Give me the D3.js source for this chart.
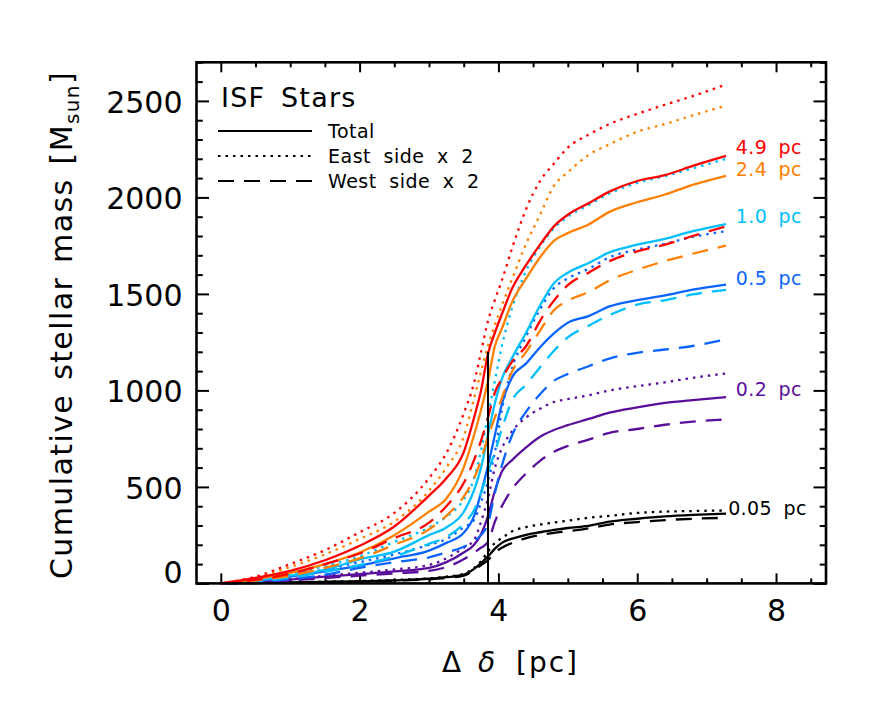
<!DOCTYPE html>
<html>
<head>
<meta charset="utf-8">
<script src="https://cdn.jsdelivr.net/npm/d3@7"></script>
<style>
  html, body { margin: 0; padding: 0; background: #fff; }
  svg { display: block; }
  text { font-family: "DejaVu Sans", sans-serif; }
</style>
</head>
<body>
<script>
// ---------------- DATA ----------------
const distance = [0, 0.5, 1, 1.5, 2, 2.5, 3, 3.25, 3.5, 3.65, 3.75, 3.85, 3.95, 4.05, 4.2, 4.4, 4.6, 4.8, 5.0, 5.3, 5.6, 6.0, 6.4, 6.8, 7.28];

const apertures = ["4.9 pc", "2.4 pc", "1.0 pc", "0.5 pc", "0.2 pc", "0.05 pc"];

// 4.9 pc
const total_4_9 = [0, 28, 65, 120, 195, 295, 455, 545, 680, 860, 1000, 1190, 1300, 1395, 1530, 1650, 1755, 1850, 1910, 1970, 2030, 2085, 2115, 2163, 2215];
const east_4_9  = [0, 35, 100, 172, 265, 365, 545, 675, 880, 1040, 1200, 1360, 1470, 1570, 1740, 1940, 2085, 2175, 2258, 2325, 2380, 2433, 2480, 2525, 2585];
const west_4_9  = [0, 18, 50, 100, 155, 235, 315, 400, 520, 640, 740, 860, 990, 1060, 1150, 1230, 1360, 1465, 1545, 1610, 1670, 1720, 1755, 1800, 1850];
// 2.4 pc
const total_2_4 = [0, 22, 55, 100, 160, 250, 372, 440, 600, 770, 900, 1050, 1230, 1320, 1460, 1580, 1690, 1775, 1815, 1860, 1925, 1975, 2015, 2065, 2112];
const east_2_4  = [0, 30, 85, 150, 230, 320, 480, 600, 760, 960, 1100, 1230, 1340, 1440, 1580, 1760, 1910, 2060, 2130, 2220, 2275, 2340, 2380, 2425, 2475];
const west_2_4  = [0, 15, 40, 80, 130, 200, 280, 350, 450, 545, 640, 760, 860, 960, 1100, 1200, 1310, 1415, 1465, 1510, 1570, 1625, 1670, 1708, 1750];
// 1.0 pc
const total_1_0 = [0, 15, 40, 70, 125, 165, 250, 290, 370, 483, 600, 770, 935, 1060, 1170, 1300, 1440, 1555, 1610, 1660, 1715, 1755, 1785, 1825, 1862];
const east_1_0  = [0, 20, 50, 90, 140, 215, 290, 345, 435, 545, 690, 870, 1050, 1230, 1430, 1620, 1745, 1840, 1900, 1960, 2020, 2075, 2110, 2150, 2200];
const west_1_0  = [0, 10, 30, 60, 95, 140, 205, 240, 310, 380, 470, 580, 680, 800, 950, 1030, 1120, 1205, 1275, 1335, 1390, 1445, 1467, 1497, 1521];
// 0.5 pc
const total_0_5 = [0, 12, 35, 62, 92, 130, 170, 210, 262, 350, 470, 610, 770, 930, 1070, 1140, 1224, 1295, 1350, 1385, 1435, 1468, 1492, 1522, 1548];
const east_0_5  = [0, 14, 40, 72, 110, 150, 200, 230, 290, 330, 420, 530, 680, 900, 1120, 1280, 1420, 1530, 1580, 1630, 1690, 1730, 1760, 1795, 1825];
const west_0_5  = [0, 8, 22, 45, 80, 110, 135, 160, 190, 220, 250, 310, 470, 610, 770, 890, 980, 1050, 1085, 1125, 1165, 1195, 1212, 1230, 1265];
// 0.2 pc
const total_0_2 = [0, 5, 20, 35, 48, 62, 80, 110, 160, 200, 255, 350, 480, 580, 640, 705, 760, 795, 820, 852, 885, 912, 935, 950, 965];
const east_0_2  = [0, 6, 22, 40, 55, 72, 95, 130, 185, 225, 320, 440, 600, 700, 790, 860, 905, 940, 955, 975, 1000, 1022, 1042, 1065, 1088];
const west_0_2  = [0, 4, 15, 28, 40, 52, 65, 85, 125, 160, 185, 215, 320, 400, 490, 570, 635, 682, 712, 745, 780, 800, 822, 838, 850];
// 0.05 pc
const total_0_05 = [0, 2, 5, 8, 11, 16, 24, 32, 45, 75, 105, 140, 180, 210, 232, 252, 265, 277, 287, 298, 320, 335, 347, 355, 362];
const east_0_05  = [0, 2, 5, 9, 12, 18, 26, 35, 50, 80, 115, 165, 210, 235, 270, 292, 305, 315, 325, 340, 350, 365, 372, 375, 378];
const west_0_05  = [0, 2, 4, 7, 10, 14, 21, 28, 40, 70, 95, 120, 160, 185, 210, 235, 250, 262, 270, 285, 305, 318, 328, 335, 340];

const xTicks = [0, 2, 4, 6, 8];
const yTicks = [0, 500, 1000, 1500, 2000, 2500];
const markerDistance = 3.85;
const markerMass = 1200;
const legendItems = ["Total", "East side x 2", "West side x 2"];

// ---------------- LAYOUT / STYLE ----------------
const W = 886, H = 709;
const colors = ["#ff0000", "#ff8000", "#00bfff", "#0a64ff", "#5a0f9c", "#000000"];
const dashes = [null, "2.5,5", "16,10"];

const groups = [
  [total_4_9, east_4_9, west_4_9],
  [total_2_4, east_2_4, west_2_4],
  [total_1_0, east_1_0, west_1_0],
  [total_0_5, east_0_5, west_0_5],
  [total_0_2, east_0_2, west_0_2],
  [total_0_05, east_0_05, west_0_05]
];

const svg = d3.select("body").append("svg").attr("width", W).attr("height", H);

const x = d3.scaleLinear().domain([-0.35, 8.72]).range([196.5, 826]);
const y = d3.scaleLinear().domain([0, 2700]).range([583.4, 62.3]);
const [L, R] = x.range();
const [B, T] = y.range();

const tickFont = 30;

// minor ticks
const xMinor = d3.range(0, 8.75, 0.5).filter(v => v % 2 !== 0);
const yMinor = d3.range(0, 2701, 100).filter(v => v % 500 !== 0);

function styleAxis(g) {
  g.select(".domain").remove();
  g.selectAll(".tick line").attr("stroke", "#000").attr("stroke-width", 2);
}

svg.append("g").attr("transform", `translate(0,${B})`)
  .call(d3.axisBottom(x).tickValues(xMinor).tickSize(-5).tickFormat("")).call(styleAxis);
svg.append("g").attr("transform", `translate(0,${T})`)
  .call(d3.axisTop(x).tickValues(xMinor).tickSize(-5).tickFormat("")).call(styleAxis);
svg.append("g").attr("transform", `translate(0,${T})`)
  .call(d3.axisTop(x).tickValues(xTicks).tickSize(-10).tickFormat("")).call(styleAxis);
svg.append("g").attr("transform", `translate(${L},0)`)
  .call(d3.axisLeft(y).tickValues(yMinor).tickSize(-6.3).tickFormat("")).call(styleAxis);
svg.append("g").attr("transform", `translate(${R},0)`)
  .call(d3.axisRight(y).tickValues(yMinor).tickSize(-6.3).tickFormat("")).call(styleAxis);
svg.append("g").attr("transform", `translate(${R},0)`)
  .call(d3.axisRight(y).tickValues(yTicks).tickSize(-12.5).tickFormat("")).call(styleAxis);

const xAxis = svg.append("g").attr("transform", `translate(0,${B})`)
  .call(d3.axisBottom(x).tickValues(xTicks).tickSize(-10).tickFormat(d3.format("d"))).call(styleAxis);
xAxis.selectAll(".tick text")
  .attr("y", 38).attr("dy", null)
  .attr("font-size", tickFont).attr("fill", "#000")
  .attr("font-family", "DejaVu Sans");

const yAxis = svg.append("g").attr("transform", `translate(${L},0)`)
  .call(d3.axisLeft(y).tickValues(yTicks).tickSize(-12.5).tickFormat(d3.format("d"))).call(styleAxis);
yAxis.selectAll(".tick text")
  .attr("x", -14).attr("dy", d => d === 0 ? "-0.02em" : "0.37em")
  .attr("font-size", tickFont).attr("fill", "#000")
  .attr("font-family", "DejaVu Sans");

// data lines
const line = d3.line()
  .x((d, i) => x(distance[i]))
  .y(d => y(d))
  .curve(d3.curveMonotoneX);

const plot = svg.append("g");
for (let gi = groups.length - 1; gi >= 0; gi--) {
  groups[gi].forEach((series, si) => {
    plot.append("path")
      .datum(series)
      .attr("d", line)
      .attr("fill", "none")
      .attr("stroke", colors[gi])
      .attr("stroke-width", 2.3)
      .attr("stroke-dasharray", dashes[si]);
  });
}

// vertical marker
svg.append("line")
  .attr("x1", x(markerDistance)).attr("x2", x(markerDistance))
  .attr("y1", y(0)).attr("y2", y(markerMass))
  .attr("stroke", "#000").attr("stroke-width", 2);

// frame
svg.append("rect")
  .attr("x", L).attr("y", T).attr("width", R - L).attr("height", B - T)
  .attr("fill", "none").attr("stroke", "#000").attr("stroke-width", 2.6);

// aperture labels
const labelCenters = [2262, 2146, 1904, 1583, 1006, 393];
const labelX = [7.42, 7.42, 7.42, 7.42, 7.42, 7.31];
apertures.forEach((lab, i) => {
  svg.append("text")
    .attr("x", x(labelX[i])).attr("y", y(labelCenters[i]))
    .attr("dy", "0.37em")
    .attr("font-size", 19)
    .attr("word-spacing", 5)
    .attr("letter-spacing", 0.4)
    .attr("fill", colors[i])
    .text(lab);
});

// legend
svg.append("text").attr("x", 221).attr("y", 107)
  .attr("font-size", 27).attr("word-spacing", 6).attr("letter-spacing", 1.2)
  .attr("fill", "#000").text("ISF Stars");
legendItems.forEach((t, i) => {
  const ly = 131 + i * 25;
  svg.append("line").attr("x1", 218).attr("x2", 312).attr("y1", ly).attr("y2", ly)
    .attr("stroke", "#000").attr("stroke-width", 2.2)
    .attr("stroke-dasharray", dashes[i]);
  svg.append("text").attr("x", 328).attr("y", ly).attr("dy", "0.37em")
    .attr("font-size", 19).attr("word-spacing", 6).attr("letter-spacing", 0.5)
    .attr("fill", "#000").text(t);
});

// axis titles
const xt = svg.append("text").attr("y", 672)
  .attr("font-size", 28).attr("fill", "#000");
xt.append("tspan").attr("x", 442).text("Δ");
xt.append("tspan").attr("x", 478).attr("font-style", "italic").text("δ");
xt.append("tspan").attr("x", 516).attr("letter-spacing", 2).text("[pc]");

const yt = svg.append("text")
  .attr("transform", "translate(72,325) rotate(-90)")
  .attr("text-anchor", "middle").attr("font-size", 30)
  .attr("letter-spacing", 1.4).attr("word-spacing", 3).attr("fill", "#000");
yt.append("tspan").text("Cumulative stellar mass [M");
yt.append("tspan").attr("font-size", 20).attr("dy", 7).text("sun");
yt.append("tspan").attr("dy", -7).text("]");
</script>
</body>
</html>
